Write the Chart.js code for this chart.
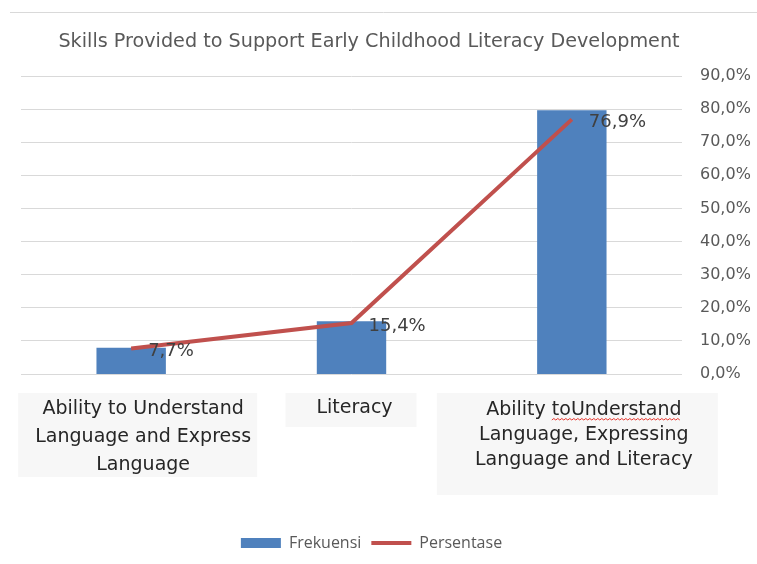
<!DOCTYPE html>
<html>
<head>
<meta charset="utf-8">
<script src="https://cdn.jsdelivr.net/npm/chart.js@4/dist/chart.umd.min.js"></script>
<style>
  html, body { margin: 0; padding: 0; background: #ffffff; }
  #wrap { width: 757px; height: 564px; }
</style>
</head>
<body>
<div id="wrap"><canvas id="c" width="757" height="564"></canvas></div>
<script>
// Categories (multi-line labels), series values and axis settings
const categoryLines = [
  ['Ability to Understand', 'Language and Express', 'Language'],
  ['Literacy'],
  ['Ability toUnderstand', 'Language, Expressing', 'Language and Literacy']
];
const frekuensi = [1, 2, 10];
const persentase = [7.7, 15.4, 76.9];
const percentMax = 90;
const percentStep = 10;

const titleText = 'Skills Provided to Support Early Childhood Literacy Development';
const seriesNames = ['Frekuensi', 'Persentase'];

const fmtPct = v => v.toFixed(1).replace('.', ',') + '%';

// Frame line along the top and the chart title
const framePlugin = {
  id: 'frameLine',
  beforeDraw(chart) {
    const ctx = chart.ctx;
    ctx.save();
    ctx.strokeStyle = '#d9d9d9';
    ctx.lineWidth = 1;
    ctx.beginPath();
    ctx.moveTo(10, 12.5);
    ctx.lineTo(chart.width, 12.5);
    ctx.stroke();
    ctx.font = '19.2px "DejaVu Sans"';
    ctx.fillStyle = '#595959';
    ctx.textAlign = 'center';
    ctx.textBaseline = 'middle';
    ctx.fillText(titleText, 369, 42);
    ctx.restore();
  }
};

// Nudge the legend row slightly left of the canvas centre
const legendShiftPlugin = {
  id: 'legendShift',
  afterLayout(chart) {
    const lg = chart.legend;
    if (lg) { lg.left -= 14.5; lg.right -= 14.5; }
  }
};

// Value labels to the right of each line point
const valueLabelPlugin = {
  id: 'valueLabels',
  afterDatasetsDraw(chart) {
    const meta = chart.getDatasetMeta(1);
    const ctx = chart.ctx;
    ctx.save();
    ctx.font = '18px "DejaVu Sans"';
    ctx.fillStyle = '#404040';
    ctx.textAlign = 'left';
    ctx.textBaseline = 'middle';
    meta.data.forEach((pt, i) => {
      ctx.fillText(fmtPct(persentase[i]), pt.x + 17, pt.y + 3);
    });
    ctx.restore();
  }
};

// Category captions in shaded boxes under the plot
const captionLayout = [
  { left: -113, right: 126, top: 19, bottom: 103, dx: 12, rows: [35, 63, 91] },
  { left: -66,  right: 65,  top: 19, bottom: 53,  dx: 3,  rows: [34] },
  { left: -135, right: 146, top: 19, bottom: 121, dx: 12, rows: [36, 61, 86] }
];
const captionPlugin = {
  id: 'captions',
  afterDraw(chart) {
    const ctx = chart.ctx;
    const xs = chart.scales.x;
    const base = chart.chartArea.bottom;
    ctx.save();
    ctx.font = '19px "DejaVu Sans"';
    ctx.textBaseline = 'middle';
    ctx.textAlign = 'center';
    categoryLines.forEach((lines, i) => {
      const L = captionLayout[i];
      const cx = xs.getPixelForValue(i);
      ctx.fillStyle = '#f7f7f7';
      ctx.fillRect(cx + L.left, base + L.top, L.right - L.left, L.bottom - L.top);
      ctx.fillStyle = '#262626';
      lines.forEach((t, j) => ctx.fillText(t, cx + L.dx, base + L.rows[j]));
    });
    // spell-check squiggle under "toUnderstand"
    const first = categoryLines[2][0];
    const cx = xs.getPixelForValue(2) + captionLayout[2].dx;
    const w = ctx.measureText(first).width;
    const x0 = cx - w / 2 + ctx.measureText('Ability ').width;
    const x1 = x0 + ctx.measureText('toUnderstand').width;
    const y = base + captionLayout[2].rows[0] + 10;
    ctx.strokeStyle = '#e8342c';
    ctx.lineWidth = 1;
    ctx.beginPath();
    let up = true;
    ctx.moveTo(x0, y);
    for (let x = x0 + 2; x <= x1; x += 2) {
      ctx.lineTo(x, up ? y - 1.5 : y);
      up = !up;
    }
    ctx.stroke();
    ctx.restore();
  }
};

new Chart(document.getElementById('c'), {
  data: {
    labels: categoryLines,
    datasets: [
      {
        type: 'bar',
        label: seriesNames[0],
        data: frekuensi,
        yAxisID: 'yF',
        backgroundColor: '#4f81bd',
        borderWidth: 0,
        categoryPercentage: 1,
        barPercentage: 0.315,
        pointStyle: 'rect',
        order: 1
      },
      {
        type: 'line',
        label: seriesNames[1],
        data: persentase,
        yAxisID: 'yP',
        borderColor: '#c0504d',
        backgroundColor: '#c0504d',
        borderWidth: 4,
        pointRadius: 0,
        pointStyle: 'line',
        tension: 0,
        order: 0
      }
    ]
  },
  options: {
    responsive: false,
    animation: false,
    devicePixelRatio: 1,
    layout: { padding: { left: 21, right: 6, top: 76, bottom: 3 } },
    scales: {
      x: {
        type: 'category',
        grid: { display: false },
        border: { display: false },
        ticks: { display: false },
        afterFit(s) { s.height = 151; }
      },
      yF: {
        display: false,
        min: 0,
        max: 11.3
      },
      yP: {
        position: 'right',
        min: 0,
        max: percentMax,
        grid: { color: '#d9d9d9', lineWidth: 1, drawTicks: false },
        border: { display: false },
        ticks: {
          stepSize: percentStep,
          padding: 18,
          color: '#595959',
          font: { family: '"DejaVu Sans"', size: 16 },
          callback: v => fmtPct(v)
        },
        afterFit(s) { s.width = 69; }
      }
    },
    plugins: {
      title: { display: false },
      legend: {
        position: 'bottom',
        labels: {
          usePointStyle: true,
          pointStyleWidth: 40,
          boxHeight: 10,
          padding: 10,
          color: '#595959',
          font: { family: '"Open Sans"', size: 16 },
          sort: (a, b) => a.datasetIndex - b.datasetIndex
        }
      },
      tooltip: { enabled: false }
    }
  },
  plugins: [framePlugin, legendShiftPlugin, valueLabelPlugin, captionPlugin]
});
</script>
</body>
</html>
